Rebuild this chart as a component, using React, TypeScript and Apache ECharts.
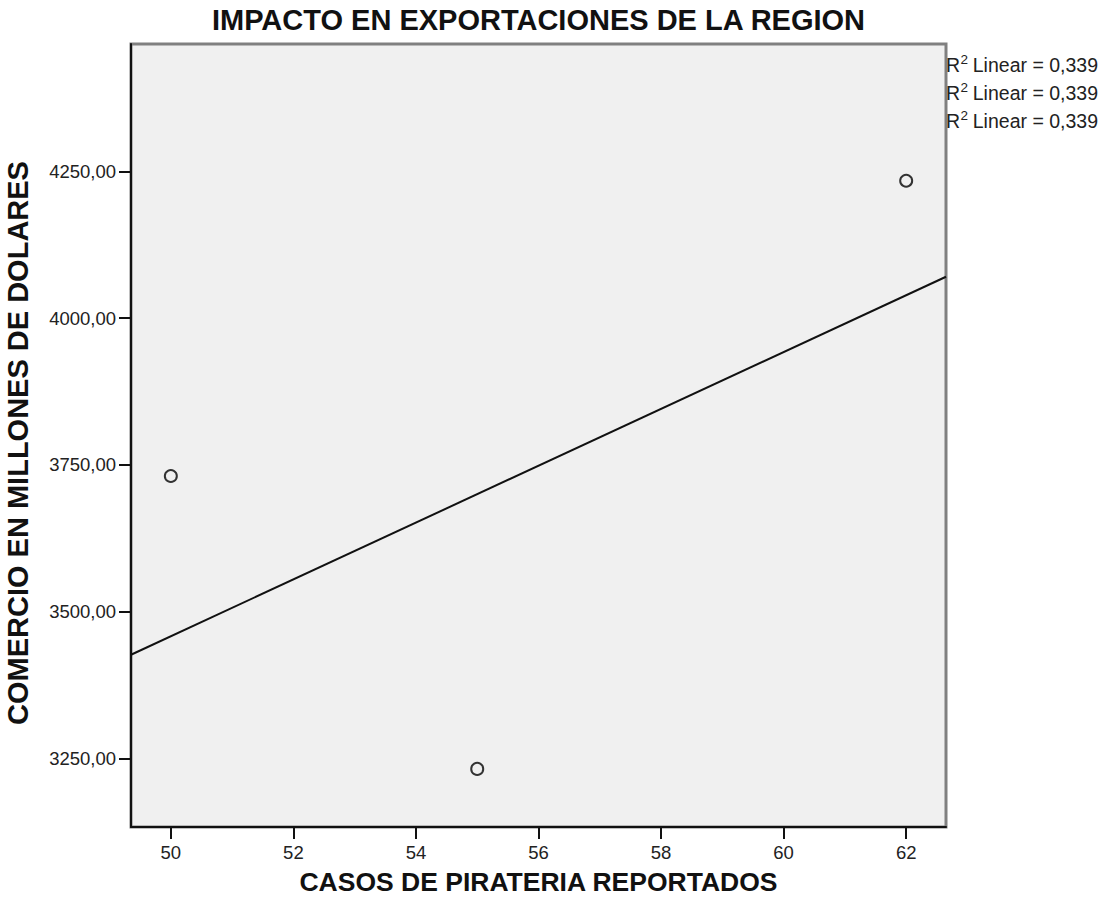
import React, { useEffect, useRef } from "react";
import * as echarts from "echarts";

const pirateria = [50, 55, 62];
const comercio = [3731, 3232, 4234];
const xTicks = [50, 52, 54, 56, 58, 60, 62];
const yTicks = [3250, 3500, 3750, 4000, 4250];
const fitLegend = ["Linear = 0,339", "Linear = 0,339", "Linear = 0,339"];
const titleText = "IMPACTO EN EXPORTACIONES DE LA REGION";
const xName = "CASOS DE PIRATERIA REPORTADOS";
const yName = "COMERCIO EN MILLONES DE DOLARES";
const xRange = [49.35, 62.65];
const yRange = [3133, 4467];

const FONT = "'Liberation Sans', Arial, sans-serif";

function fitLine(xs: number[], ys: number[]) {
  const n = xs.length;
  const mx = xs.reduce((a, b) => a + b, 0) / n;
  const my = ys.reduce((a, b) => a + b, 0) / n;
  let sxy = 0, sxx = 0;
  for (let i = 0; i < n; i++) {
    sxy += (xs[i] - mx) * (ys[i] - my);
    sxx += (xs[i] - mx) * (xs[i] - mx);
  }
  const b = sxy / sxx;
  return (x: number) => my + b * (x - mx);
}

export default function App() {
  const ref = useRef<HTMLDivElement>(null);
  useEffect(() => {
    if (!ref.current) return;
    const chart = echarts.init(ref.current, undefined, { renderer: "svg" });
    const f = fitLine(pirateria, comercio);
    const L = 131, T = 44, R = 946, B = 827;
    const legendGraphics: any[] = [];
    fitLegend.forEach((t, i) => {
      const cy = 65 + i * 28;
      legendGraphics.push(
        { type: "text", x: 946, y: cy, style: { text: "R", font: `19.5px ${FONT}`, fill: "#222", textVerticalAlign: "middle" } },
        { type: "text", x: 960.5, y: cy - 6, style: { text: "2", font: `13.5px ${FONT}`, fill: "#222", textVerticalAlign: "middle" } },
        { type: "text", x: 1098, y: cy, style: { text: t, font: `19.5px ${FONT}`, fill: "#222", textAlign: "right", textVerticalAlign: "middle" } }
      );
    });
    chart.setOption({
      animation: false,
      grid: {
        left: L, top: T, right: 1102 - R, bottom: 913 - B,
        show: true, backgroundColor: "#f0f0f0", borderColor: "#808080", borderWidth: 3,
      },
      xAxis: {
        type: "value", min: xRange[0], max: xRange[1],
        axisLine: { show: true, onZero: false, lineStyle: { color: "#111", width: 2 } },
        axisTick: { show: true, inside: false, length: 12, customValues: xTicks, lineStyle: { color: "#111", width: 2 } },
        axisLabel: { customValues: xTicks, fontFamily: FONT, fontSize: 18.5, color: "#222", margin: 16 },
        splitLine: { show: false },
      },
      yAxis: {
        type: "value", min: yRange[0], max: yRange[1],
        axisLine: { show: true, onZero: false, lineStyle: { color: "#111", width: 2 } },
        axisTick: { show: true, inside: false, length: 12, customValues: yTicks, lineStyle: { color: "#111", width: 2 } },
        axisLabel: {
          customValues: yTicks, fontFamily: FONT, fontSize: 18.5, color: "#222", margin: 15,
          formatter: (v: number) => v.toFixed(2).replace(".", ","),
        },
        splitLine: { show: false },
      },
      series: [
        {
          type: "line",
          data: [[xRange[0], f(xRange[0])], [xRange[1], f(xRange[1])]],
          symbol: "none",
          lineStyle: { color: "#111", width: 2 },
          z: 2,
        },
        {
          type: "scatter",
          data: pirateria.map((x, i) => [x, comercio[i]]),
          symbol: "circle",
          symbolSize: 12,
          itemStyle: { color: "#f0f0f0", borderColor: "#333", borderWidth: 2, opacity: 1 },
          z: 3,
        },
      ],
      graphic: [
        { type: "text", x: (L + R) / 2, y: 19.5, style: { text: titleText, font: `bold 29px ${FONT}`, fill: "#111", textAlign: "center", textVerticalAlign: "middle" } },
        { type: "text", x: (L + R) / 2, y: 882, style: { text: xName, font: `bold 26.5px ${FONT}`, fill: "#111", textAlign: "center", textVerticalAlign: "middle" } },
        { type: "text", x: 18, y: 443, rotation: Math.PI / 2, style: { text: yName, font: `bold 29px ${FONT}`, fill: "#111", textAlign: "center", textVerticalAlign: "middle" } },
        ...legendGraphics,
      ],
    });
    return () => chart.dispose();
  }, []);
  return <div ref={ref} style={{ position: "fixed", left: 0, top: 0, width: 1102, height: 913, background: "#fff" }} />;
}
